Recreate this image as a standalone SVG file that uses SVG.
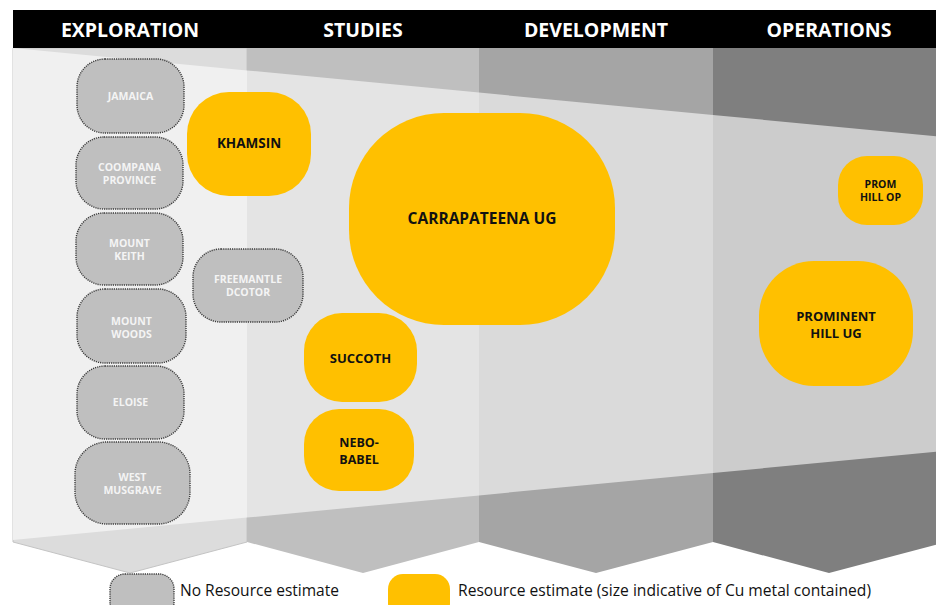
<svg xmlns="http://www.w3.org/2000/svg" width="936" height="605" viewBox="0 0 936 605">
  <style>
    .hdr { font-family: "Open Sans", "Liberation Sans", sans-serif; font-weight: 700; font-size: 19.5px; fill: #ffffff; text-anchor: middle; }
    .nores rect { fill: #bfbfbf; stroke: #3a3a3a; stroke-width: 1.4; stroke-dasharray: 1.2 1; }
    .nores text { font-family: "Open Sans", "Liberation Sans", sans-serif; font-weight: 700; font-size: 10.5px; fill: #f4f4f4; text-anchor: middle; }
    .res rect { fill: #ffc000; }
    .res text { font-family: "Open Sans", "Liberation Sans", sans-serif; font-weight: 700; fill: #111111; text-anchor: middle; }
    .legend { font-family: "Open Sans", "Liberation Sans", sans-serif; font-size: 15.5px; fill: #111111; }
  </style>

  <!-- stage columns: outer band with chevron bottom, lighter funnel on top -->
  <g id="stages">
    <polygon points="13,48 247,48 247,542 130,573 13,542" fill="#dcdcdc" stroke="#c4c4c4" stroke-width="1"/>
    <polygon points="247,48 479,48 479,542 363,573 247,542" fill="#bfbfbf"/>
    <polygon points="479,48 713,48 713,542 596,573 479,542" fill="#a5a5a5"/>
    <polygon points="713,48 946,48 946,542 829,573 713,542" fill="#7f7f7f"/>

    <polygon points="13,48 247,70.4 247,517.6 13,540" fill="#f0f0f0"/>
    <polygon points="247,70.4 479,92.6 479,495.4 247,517.6" fill="#e4e4e4"/>
    <polygon points="479,92.6 713,115 713,473 479,495.4" fill="#dadada"/>
    <polygon points="713,115 936,136.3 936,451.7 713,473" fill="#cccccc"/>
  </g>

  <!-- header bar -->
  <g id="header">
    <rect x="13" y="10" width="923" height="38" fill="#000000"/>
    <text class="hdr" x="130" y="37">EXPLORATION</text>
    <text class="hdr" x="363" y="37">STUDIES</text>
    <text class="hdr" x="596" y="37">DEVELOPMENT</text>
    <text class="hdr" x="829" y="37">OPERATIONS</text>
  </g>

  <!-- no connectors in this chart -->
  <g id="connectors"/>

  <!-- projects without a resource estimate -->
  <g id="jamaica" class="nores">
    <rect x="77" y="59" width="107" height="74" rx="28"/>
    <text x="130.5" y="100">JAMAICA</text>
  </g>
  <g id="coompana-province" class="nores">
    <rect x="76" y="137" width="107" height="72" rx="28"/>
    <text x="129.5" y="171">COOMPANA</text>
    <text x="129.5" y="183.5">PROVINCE</text>
  </g>
  <g id="mount-keith" class="nores">
    <rect x="76" y="213" width="107" height="72" rx="28"/>
    <text x="129.5" y="247">MOUNT</text>
    <text x="129.5" y="260">KEITH</text>
  </g>
  <g id="mount-woods" class="nores">
    <rect x="77" y="289" width="109" height="74" rx="28"/>
    <text x="131.5" y="325">MOUNT</text>
    <text x="131.5" y="337.5">WOODS</text>
  </g>
  <g id="eloise" class="nores">
    <rect x="77" y="366" width="107" height="73" rx="28"/>
    <text x="130.5" y="406">ELOISE</text>
  </g>
  <g id="west-musgrave" class="nores">
    <rect x="75" y="442" width="115" height="82" rx="32"/>
    <text x="132.5" y="481">WEST</text>
    <text x="132.5" y="494">MUSGRAVE</text>
  </g>
  <g id="freemantle-dcotor" class="nores">
    <rect x="193" y="249" width="110" height="73" rx="28"/>
    <text x="248" y="283">FREEMANTLE</text>
    <text x="248" y="296">DCOTOR</text>
  </g>

  <!-- projects with a resource estimate -->
  <g id="khamsin" class="res">
    <rect x="187" y="92" width="124" height="104" rx="42"/>
    <text x="249" y="148" font-size="13.5">KHAMSIN</text>
  </g>
  <g id="carrapateena-ug" class="res">
    <rect x="349" y="113" width="266" height="212" rx="95"/>
    <text x="482" y="223.5" font-size="15.5">CARRAPATEENA UG</text>
  </g>
  <g id="succoth" class="res">
    <rect x="304" y="313" width="113" height="89" rx="38"/>
    <text x="360.5" y="362.5" font-size="13">SUCCOTH</text>
  </g>
  <g id="nebo-babel" class="res">
    <rect x="304" y="409" width="110" height="82" rx="35"/>
    <text x="359" y="447" font-size="12.5">NEBO-</text>
    <text x="359" y="464" font-size="12.5">BABEL</text>
  </g>
  <g id="prom-hill-op" class="res">
    <rect x="838" y="156" width="85" height="69" rx="29"/>
    <text x="880.5" y="187.5" font-size="10.5">PROM</text>
    <text x="880.5" y="200.5" font-size="10.5">HILL OP</text>
  </g>
  <g id="prominent-hill-ug" class="res">
    <rect x="759" y="261" width="154" height="125" rx="55"/>
    <text x="836" y="320.5" font-size="13">PROMINENT</text>
    <text x="836" y="337.5" font-size="13">HILL UG</text>
  </g>

  <!-- legend -->
  <g id="legend">
    <g class="nores">
      <rect x="110" y="574" width="64" height="44" rx="15"/>
    </g>
    <text class="legend" x="180" y="596" textLength="159" lengthAdjust="spacingAndGlyphs">No Resource estimate</text>
    <g class="res">
      <rect x="388" y="574" width="62" height="44" rx="15"/>
    </g>
    <text class="legend" x="458" y="596" textLength="413" lengthAdjust="spacingAndGlyphs">Resource estimate (size indicative of Cu metal contained)</text>
  </g>
</svg>
